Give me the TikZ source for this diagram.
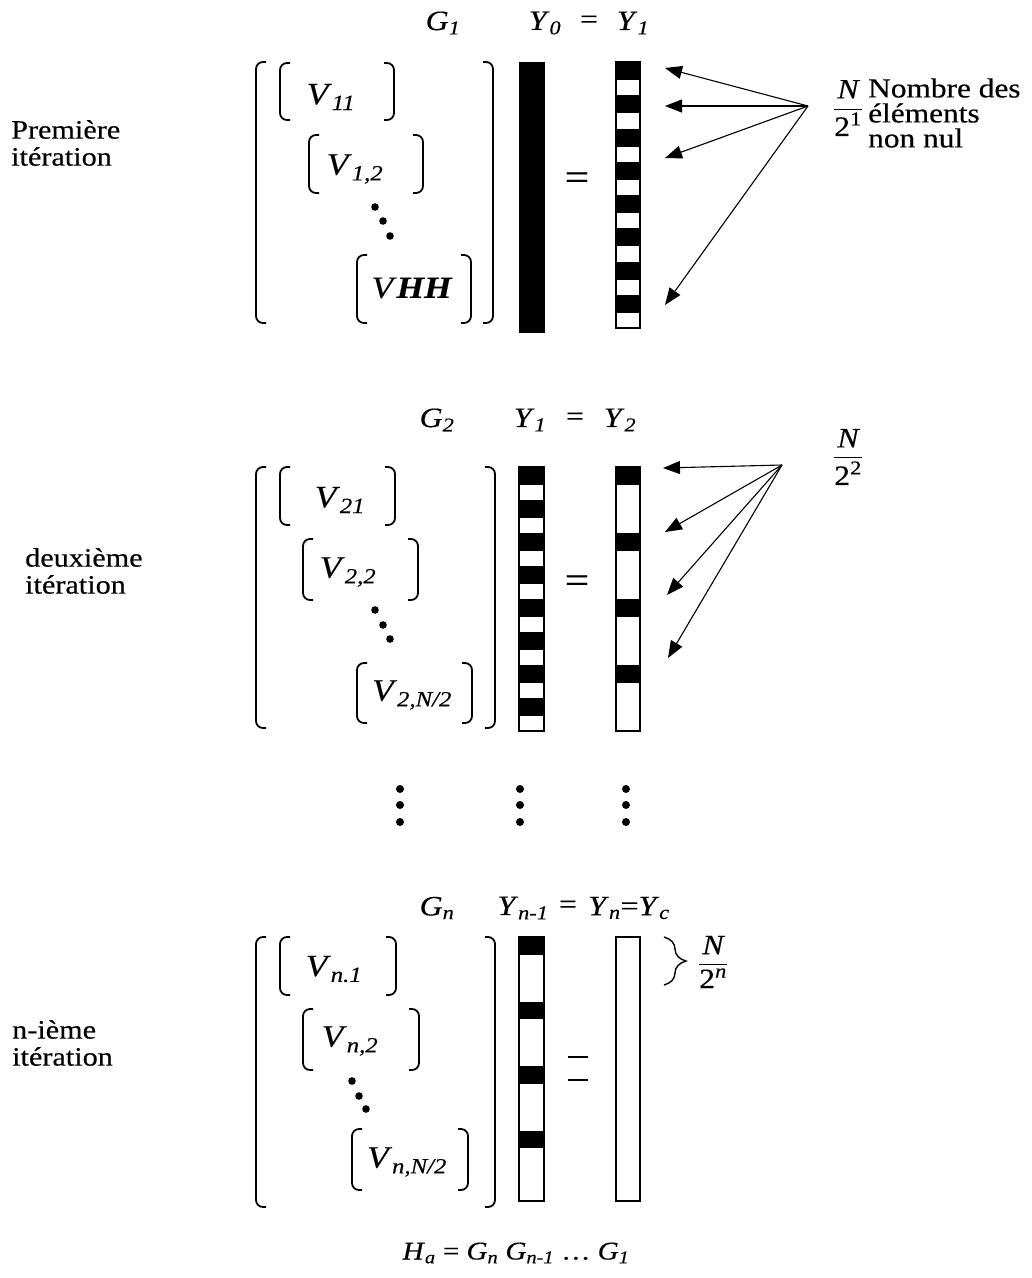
\documentclass[tikz,border=0pt]{standalone}
\usepackage{amsmath}
\usepackage{fontspec}
\setmainfont{Liberation Serif}[FakeStretch=1.14, FakeBold=0.4]
\usetikzlibrary{arrows.meta,decorations.pathreplacing}
\newcommand{\idx}[2]{\textit{#1}\textsubscript{\textit{#2}}}
\tikzset{%
	lbl/.style  = {align=left, anchor=west, inner sep=0pt, font=\fontsize{26.5}{27}\selectfont}, % left labels
	hdr/.style  = {inner sep=0pt, font=\fontsize{28}{28}\selectfont}, % G, Y headers
	vblk/.style = {inner sep=0pt, font=\fontsize{31}{31}\selectfont}, % V blocks
	eqs/.style  = {inner sep=0pt, font=\fontsize{38}{38}\selectfont},
	brk/.style  = {line width=1.8pt, rounded corners=7pt},
	bar/.style  = {line width=1.8pt},
	ptr/.style  = {line width=1.1pt, -{Triangle[length=17pt,width=13pt]}},
}
\begin{document}
\begin{tikzpicture}[x=1pt, y=-1pt]
	\useasboundingbox (0,0) rectangle (1032,1278);
	
	% brackets: left x / right x / top / bottom
	\foreach \xa/\xb/\ya/\yb in {256/493/62/323, 280/394/63/120, 309/423/135/193, 357/471/255/323,
		256/495/467/728, 280/395/467/525, 303/418/539/600, 357/472/663/723,
		256/495/937/1207, 280/396/937/995, 303/419/1009/1070, 352/468/1129/1190}{
		\draw[brk] (\xa+10,\ya) -- (\xa,\ya) -- (\xa,\yb) -- (\xa+10,\yb);
		\draw[brk] (\xb-10,\ya) -- (\xb,\ya) -- (\xb,\yb) -- (\xb-10,\yb);
	}
	% diagonal dots
	\foreach \x/\y in {375/207, 383/221, 390/236, 375/610, 383/625, 390/639, 352/1081, 359/1096, 366/1109}
		\fill (\x,\y) circle (3.8pt);
	% vertical dots
	\foreach \x in {400,520,626}
		\foreach \y in {789,805,822}
			\fill (\x,\y) circle (4pt);
	
	% first iteration
	\node[lbl] (lab1) at (11,143) {Première\\itération};
	\node[hdr] (g1) at (443,23) {\idx{G}{1}};
	\node[hdr] (y0) at (545,23) {\idx{Y}{0}};
	\node[hdr] (eqa) at (589,22) {=};
	\node[hdr] (y1) at (633,23) {\idx{Y}{1}};
	\node[vblk] (v11) at (331,97) {\idx{V}{11}};
	\node[vblk] (v12) at (355,169) {\idx{V}{1,2}};
	\node[vblk] (vhh) at (412,288) {\textit{V}\textbf{\textit{HH}}};
	\node[eqs] (eq1) at (577,181) {=};
	\fill (519,62) rectangle (545,333);
	\foreach \k in {0,...,7}
		\fill (616,62+33.25*\k) rectangle ++(24,18);
	\draw[bar] (616,62) rectangle (640,328);
	
	\coordinate (src1) at (808,106);
	\coordinate (t11) at (665,68);
	\coordinate (t12) at (665,106);
	\coordinate (t13) at (665,158);
	\coordinate (t14) at (665,305);
	\foreach \t in {t11,t12,t13,t14}
		\draw[ptr] (src1) -- (\t);
	\node[hdr] (frac1) at (848,108) {$\dfrac{\textit{N}}{\textrm{2}^{\textrm{1}}}$};
	\node[lbl, font=\fontsize{27.5}{25}\selectfont] (nbr) at (868,113) {Nombre des\\éléments\\non nul};
	
	% second iteration
	\node[lbl] (lab2) at (25,571) {deuxième\\itération};
	\node[hdr] (g2) at (437,420) {\idx{G}{2}};
	\node[hdr] (y1b) at (530,420) {\idx{Y}{1}};
	\node[hdr] (eqb) at (575,419) {=};
	\node[hdr] (y2) at (620,420) {\idx{Y}{2}};
	\node[vblk] (v21) at (340,500) {\idx{V}{21}};
	\node[vblk] (v22) at (348,572) {\idx{V}{2,2}};
	\node[vblk] (v2n) at (412,695) {\idx{V}{2,N/2}};
	\node[eqs] (eq2) at (577,584) {=};
	\foreach \k in {0,...,7}
		\fill (519,467+33*\k) rectangle ++(25,17.5);
	\draw[bar] (519,467) rectangle (544,731);
	\foreach \k in {0,...,3}
		\fill (616,467+66*\k) rectangle ++(24,17.5);
	\draw[bar] (616,467) rectangle (640,731);
	
	\coordinate (src2) at (782,465);
	\coordinate (t21) at (663,468);
	\coordinate (t22) at (665,532);
	\coordinate (t23) at (667,595);
	\coordinate (t24) at (668,658);
	\foreach \t in {t21,t22,t23,t24}
		\draw[ptr] (src2) -- (\t);
	\node[hdr] (frac2) at (848,457) {$\dfrac{\textit{N}}{\textrm{2}^{\textrm{2}}}$};
	
	% n-th iteration
	\node[lbl] (lab3) at (12,1043) {n-ième\\itération};
	\node[hdr] (gn) at (437,908) {\idx{G}{n}};
	\node[hdr] (yn1) at (523,908) {\idx{Y}{n-1}};
	\node[hdr] (eqc) at (568,907) {=};
	\node[hdr] (ync) at (629,908) {\idx{Y}{n}=\idx{Y}{c}};
	\node[vblk] (vn1) at (334,969) {\idx{V}{n.1}};
	\node[vblk] (vn2) at (350,1041) {\idx{V}{n,2}};
	\node[vblk] (vnn) at (407,1162) {\idx{V}{n,N/2}};
	\draw[line width=1.5pt] (568,1057) -- (588,1057) (568,1080) -- (588,1080);
	\foreach \k in {0,...,3}
		\fill (519,937+64.5*\k) rectangle ++(25,17.5);
	\draw[bar] (519,937) rectangle (544,1201);
	\draw[bar] (616,937) rectangle (640,1201);
	\draw[line width=1.4pt, decorate, decoration={brace, amplitude=22pt}] (664,937) -- (664,985);
	\node[hdr] (frac3) at (713,962) {$\dfrac{\textit{N}}{\textrm{2}^{\textit{n}}}$};
	
	\node[hdr, font=\fontsize{25.5}{26}\selectfont] (prod) at (516,1253) {\idx{H}{a} = \idx{G}{n} \idx{G}{n-1} … \idx{G}{1}};
\end{tikzpicture}
\end{document}
